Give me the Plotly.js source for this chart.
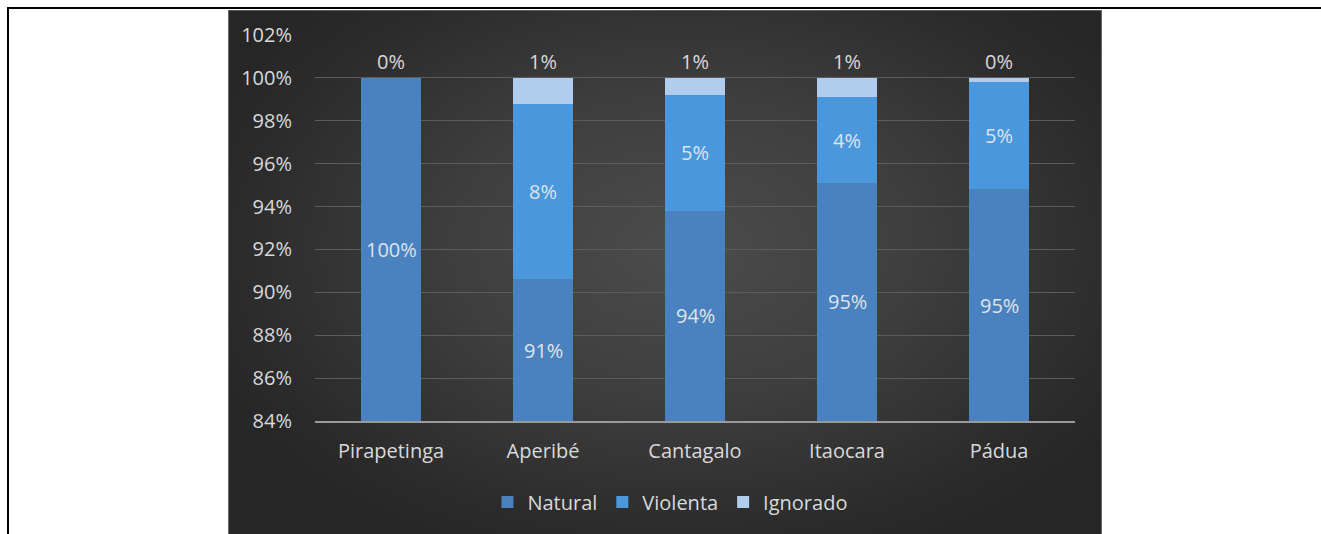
<!DOCTYPE html>
<html>
<head>
<meta charset="utf-8">
<script src="https://cdn.plot.ly/plotly-3.0.1.min.js"></script>
<style>
  html, body { margin:0; padding:0; background:#ffffff; }
  #wrap { position:relative; width:1321px; height:534px; overflow:hidden; }
  #panel { position:absolute; left:228px; top:10px; width:872px; height:524px;
    background: radial-gradient(ellipse 60% 65% at 52% 45%, #4c4c4c 0%, #3e3e3e 45%, #2b2b2b 85%, #262626 100%);
    border-left:1px solid #6a6a6a; border-right:1px solid #6a6a6a; border-top:1px solid #5a5a5a; }
  #topline { position:absolute; left:7px; top:7px; width:1314px; height:2px; background:#000; }
  #leftline { position:absolute; left:7px; top:7px; width:2px; height:527px; background:#000; }
  #chart { position:absolute; left:0; top:0; width:1321px; height:534px; }
</style>
</head>
<body>
<div id="wrap">
  <div id="panel"></div>
  <div id="topline"></div>
  <div id="leftline"></div>
  <div id="chart"></div>
</div>
<script>
const categories = ["Pirapetinga", "Aperibé", "Cantagalo", "Itaocara", "Pádua"];
const natural   = [100.0, 90.6, 93.8, 95.1, 94.8];
const violenta  = [0.0, 8.2, 5.4, 4.0, 5.0];
const ignorado  = [0.0, 1.2, 0.8, 0.9, 0.2];
const yTicks = [84, 86, 88, 90, 92, 94, 96, 98, 100, 102];

const labelColor = "#d9d9d9";
const fontFam = "'Open Sans', 'Noto Sans', sans-serif";
const fs = 20;

const common = { type: "bar", x: categories, hoverinfo: "skip", textposition: "none" };
const traces = [
  Object.assign({}, common, { name: "Natural", y: natural,
    marker: { color: "#4a82c0", line: { width: 0 } } }),
  Object.assign({}, common, { name: "Violenta", y: violenta,
    marker: { color: "#4a97dc", line: { width: 0 } } }),
  Object.assign({}, common, { name: "Ignorado", y: ignorado,
    marker: { color: "#b0cdee", line: { width: 0 } } })
];

const yMin = 84;
const annotations = [];
categories.forEach((c, i) => {
  const n = natural[i], v = violenta[i], g = ignorado[i];
  annotations.push({ x: c, y: (yMin + n) / 2, text: Math.round(n) + "%",
    showarrow: false, font: { size: fs, color: "#dfe3ea", family: fontFam } });
  if (v > 0) {
    annotations.push({ x: c, y: n + v / 2, text: Math.round(v) + "%",
      showarrow: false, font: { size: fs, color: "#dfe3ea", family: fontFam } });
  }
  annotations.push({ x: c, y: 100.75, text: Math.round(g) + "%",
    showarrow: false, font: { size: fs, color: labelColor, family: fontFam } });
});

const layout = {
  width: 1321, height: 534,
  margin: { l: 315, r: 246, t: 35, b: 113, pad: 0 },
  paper_bgcolor: "rgba(0,0,0,0)",
  plot_bgcolor: "rgba(0,0,0,0)",
  barmode: "stack",
  bargap: 0.6,
  showlegend: true,
  font: { family: fontFam, color: labelColor, size: fs },
  xaxis: {
    type: "category",
    showgrid: false, zeroline: false,
    showline: true, linecolor: "#9a9a9a", linewidth: 2,
    ticks: "outside", ticklen: 11, tickcolor: "rgba(0,0,0,0)",
    tickfont: { size: fs, color: labelColor, family: fontFam },
    fixedrange: true
  },
  yaxis: {
    range: [84, 102],
    tickvals: yTicks,
    ticktext: yTicks.map(t => t + "%"),
    showgrid: true, gridcolor: "#5c5c5c", gridwidth: 1,
    zeroline: false, showline: false,
    ticks: "outside", ticklen: 18, tickcolor: "rgba(0,0,0,0)",
    tickfont: { size: fs, color: labelColor, family: fontFam },
    fixedrange: true
  },
  legend: {
    orientation: "h", x: 0.467, xanchor: "center", y: -0.21, yanchor: "middle",
    font: { size: fs, color: labelColor, family: fontFam },
    bgcolor: "rgba(0,0,0,0)", itemwidth: 30, traceorder: "normal"
  },
  annotations: annotations
};

Plotly.newPlot("chart", traces, layout, { displayModeBar: false, staticPlot: true });
</script>
</body>
</html>
